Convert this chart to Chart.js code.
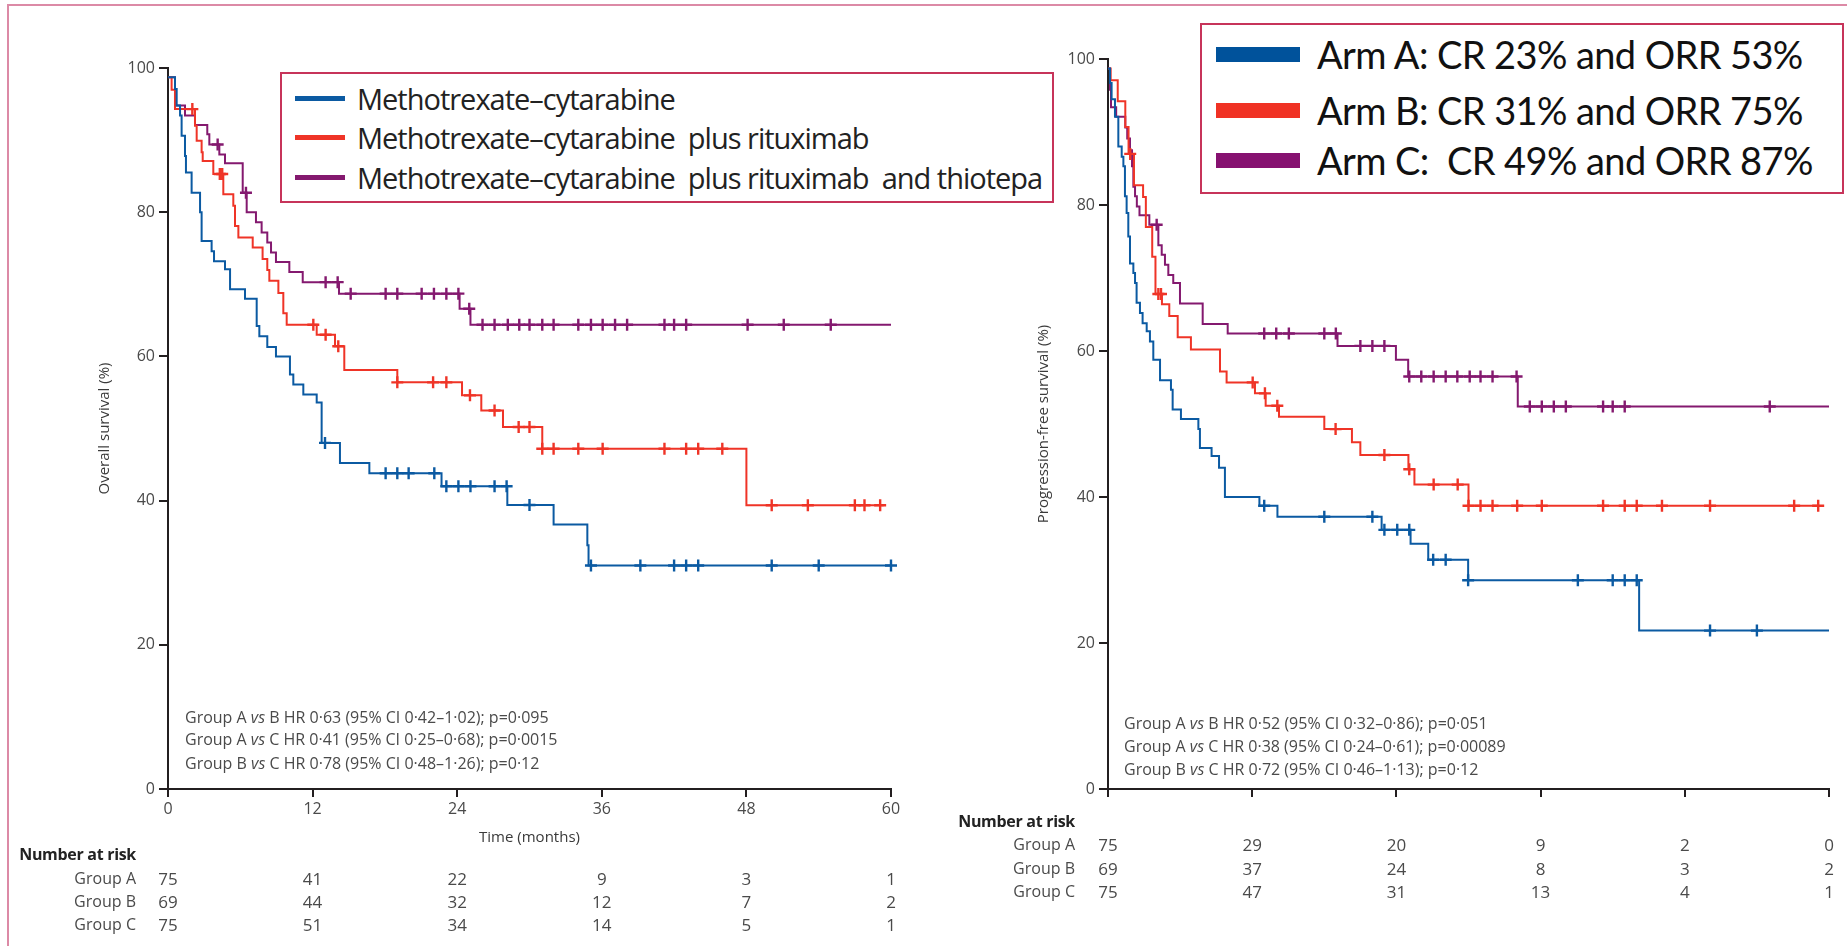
<!DOCTYPE html>
<html>
<head>
<meta charset="utf-8">
<script src="https://cdn.jsdelivr.net/npm/chart.js@4"></script>
<style>
  body { margin: 0; background: #fff; }
  #page { position: relative; width: 1847px; height: 946px; overflow: hidden; font-family: "Open Sans", sans-serif; color: #3a3a3a; }
  .frame { position: absolute; left: 7px; top: 4px; width: 1900px; height: 1000px; border: 2px solid #dc8aa6; }
  .panel { position: absolute; top: 0; height: 946px; }
  .legend { position: absolute; border: 2px solid #c7345a; background: #fff; }
  .txt { position: absolute; white-space: pre; line-height: 1; }
  .swatch { position: absolute; }
</style>
</head>
<body>
<div id="page">
  <div class="frame"></div>
  <div class="panel" style="left:0;width:960px"><canvas id="os"></canvas></div>
  <div class="panel" style="left:960px;width:887px"><canvas id="pfs"></canvas></div>
</div>
<script>
// colours of the three arms
const colA = "#0b5aa2";
const colB = "#ef3427";
const colC = "#84196f";

// --- overall survival (left panel), Kaplan-Meier steps ---
const osTimesA = [0, 0.58, 0.72, 1.0, 1.13, 1.41, 1.49, 1.96, 2.66, 2.79, 3.62, 3.82, 4.73, 5.15, 6.39, 7.36, 7.58, 8.24, 8.96, 10.12, 10.4, 11.23, 12.34, 12.75, 14.27, 16.71, 22.7, 28.16, 32.0, 34.8, 34.9, 60];
const osSurvA  = [98.7, 97.1, 94.8, 93.4, 90.6, 87.8, 85.5, 82.7, 80.0, 76.0, 74.6, 73.2, 72.1, 69.3, 68.0, 64.2, 62.8, 61.3, 60.0, 57.5, 56.1, 54.7, 53.6, 48.0, 45.2, 43.8, 42.0, 39.4, 36.7, 33.8, 31.0, 31.0];
const osCensA  = [13.03, 18.06, 19.03, 19.97, 22.1, 23.1, 24.1, 25.1, 27.1, 28.1, 30.0, 35.1, 39.2, 42.0, 43.0, 44.0, 50.1, 54.0, 60.0];

const osTimesB = [0, 0.3, 0.58, 2.24, 2.38, 2.79, 2.88, 3.76, 4.59, 5.42, 5.56, 5.84, 7.03, 7.85, 8.24, 8.41, 9.16, 9.57, 9.85, 12.34, 13.86, 14.63, 19.03, 24.4, 26.0, 27.8, 31.06, 48.0, 59.4];
const osSurvB  = [98.7, 97.0, 94.3, 92.0, 89.9, 88.3, 87.1, 85.3, 82.5, 80.9, 78.1, 76.5, 75.1, 73.5, 72.0, 70.5, 68.8, 66.0, 64.4, 63.0, 61.4, 58.1, 56.4, 54.6, 52.5, 50.2, 47.2, 39.35, 39.35];
const osCensB  = [2.02, 4.3, 4.5, 12.06, 13.08, 14.13, 19.03, 22.0, 23.1, 25.06, 27.1, 29.1, 30.0, 31.06, 32.0, 34.05, 36.07, 41.2, 43.0, 44.0, 46.0, 50.1, 53.1, 57.0, 57.8, 59.1];

const osTimesC = [0, 0.58, 1.41, 2.24, 3.26, 3.43, 4.26, 4.73, 6.2, 6.53, 7.3, 7.77, 8.24, 8.55, 8.96, 10.07, 11.18, 14.19, 24.2, 25.1, 60];
const osSurvC  = [98.7, 94.8, 93.4, 92.1, 90.8, 89.4, 88.0, 86.8, 82.7, 80.0, 78.6, 77.2, 75.8, 74.4, 73.1, 71.7, 70.3, 68.7, 66.6, 64.4, 64.4];
const osCensC  = [4.12, 6.47, 13.08, 14.08, 15.16, 18.06, 19.03, 21.05, 22.07, 23.1, 24.1, 25.0, 26.1, 27.1, 28.2, 29.15, 30.0, 31.06, 32.0, 34.05, 35.1, 36.07, 37.1, 38.1, 41.2, 42.0, 43.0, 48.1, 51.1, 55.0];

// --- progression-free survival (right panel) ---
const pfsTimesA = [0, 0.17, 0.3, 0.58, 0.86, 1.14, 1.28, 1.41, 1.55, 1.69, 1.83, 2.11, 2.25, 2.38, 2.66, 2.88, 3.22, 3.49, 3.77, 4.33, 5.24, 5.38, 6.07, 7.52, 7.65, 8.62, 9.24, 9.73, 12.6, 14.1, 22.77, 25.18, 26.65, 29.97, 44.2, 60];
const pfsSurvA  = [98.7, 96.7, 94.5, 92.1, 88.0, 86.6, 85.3, 81.2, 78.9, 75.7, 72.0, 70.7, 69.3, 66.6, 65.2, 63.8, 62.7, 61.3, 58.8, 56.0, 54.7, 52.0, 50.7, 49.3, 46.7, 45.6, 44.0, 40.0, 38.8, 37.3, 35.5, 33.6, 31.4, 28.6, 21.7, 21.7];
const pfsCensA  = [13.0, 18.0, 22.0, 23.0, 24.07, 25.07, 27.06, 28.1, 29.97, 39.1, 42.0, 43.0, 44.0, 50.1, 54.0];

const pfsTimesB = [0, 0.22, 0.81, 1.44, 1.71, 2.16, 2.92, 3.15, 3.68, 3.95, 4.49, 5.1, 5.8, 6.9, 9.32, 9.87, 12.23, 13.12, 14.23, 18.0, 20.3, 21.0, 25.0, 25.5, 30.0, 59.2];
const pfsSurvB  = [98.7, 97.1, 94.2, 90.7, 87.0, 82.7, 81.1, 77.0, 72.9, 67.8, 66.4, 64.8, 61.9, 60.2, 57.2, 55.7, 54.2, 52.5, 51.0, 49.3, 47.5, 45.75, 43.8, 41.7, 38.8, 38.8];
const pfsCensB  = [1.85, 4.19, 4.41, 12.04, 13.06, 14.09, 18.94, 23.0, 25.07, 27.1, 29.1, 30.0, 31.0, 32.0, 34.05, 36.1, 41.2, 43.0, 44.0, 46.1, 50.1, 57.1, 59.1];

const pfsTimesC = [0, 0.17, 0.25, 0.68, 1.44, 1.6, 1.83, 2.0, 2.11, 2.25, 2.4, 2.62, 3.44, 4.19, 4.47, 4.74, 5.02, 5.43, 5.99, 7.88, 9.96, 19.1, 23.96, 24.98, 34.1, 60];
const pfsSurvC  = [98.7, 95.8, 93.4, 92.1, 90.6, 89.1, 87.5, 85.3, 82.5, 81.2, 79.8, 78.6, 77.3, 74.5, 73.2, 71.8, 70.4, 69.3, 66.5, 63.7, 62.4, 60.7, 58.8, 56.5, 52.4, 52.4];
const pfsCensC  = [4.05, 13.0, 14.0, 15.05, 18.0, 18.96, 21.0, 22.0, 23.0, 25.07, 26.07, 27.1, 28.1, 29.07, 30.1, 31.0, 32.0, 34.0, 35.1, 36.1, 37.1, 38.1, 41.2, 42.0, 43.0, 55.07];

// number at risk
const riskTimes = [0, 12, 24, 36, 48, 60];
const groupNames = ["Group A", "Group B", "Group C"];
const osRiskA = [75, 41, 22, 9, 3, 1];
const osRiskB = [69, 44, 32, 12, 7, 2];
const osRiskC = [75, 51, 34, 14, 5, 1];
const pfsRiskA = [75, 29, 20, 9, 2, 0];
const pfsRiskB = [69, 37, 24, 8, 3, 2];
const pfsRiskC = [75, 47, 31, 13, 4, 1];

// hazard ratio notes
const osHR = [
  "Group A vs B HR 0·63 (95% CI 0·42–1·02); p=0·095",
  "Group A vs C HR 0·41 (95% CI 0·25–0·68); p=0·0015",
  "Group B vs C HR 0·78 (95% CI 0·48–1·26); p=0·12"
];
const pfsHR = [
  "Group A vs B HR 0·52 (95% CI 0·32–0·86); p=0·051",
  "Group A vs C HR 0·38 (95% CI 0·24–0·61); p=0·00089",
  "Group B vs C HR 0·72 (95% CI 0·46–1·13); p=0·12"
];

const osLegend = [
  "Methotrexate–cytarabine",
  "Methotrexate–cytarabine  plus rituximab",
  "Methotrexate–cytarabine  plus rituximab  and thiotepa"
];
const pfsLegend = [
  "Arm A: CR 23% and ORR 53%",
  "Arm B: CR 31% and ORR 75%",
  "Arm C:  CR 49% and ORR 87%"
];

Chart.defaults.font.family = "'Open Sans', sans-serif";
Chart.defaults.color = "#4a4a4a";

const page = document.getElementById("page");

function survAt(times, surv, t) {
  let v = surv[0];
  for (let i = 0; i < times.length; i++) if (times[i] <= t) v = surv[i];
  return v;
}

function kmSets(times, surv, cens, color) {
  return [
    {
      data: times.map((t, i) => ({ x: t, y: surv[i] })),
      borderColor: color, borderWidth: 2, stepped: true,
      pointRadius: 0, fill: false, clip: false
    },
    {
      data: cens.map(t => ({ x: t, y: survAt(times, surv, t) })),
      showLine: false, borderColor: color, backgroundColor: color,
      pointStyle: "cross", pointRadius: 6, pointBorderWidth: 2.4, clip: false
    }
  ];
}

function addText(txt, x, y, css, anchor) {
  const el = document.createElement("div");
  el.className = "txt";
  el.textContent = txt;
  el.style.left = x + "px";
  el.style.top = y + "px";
  const tx = anchor === "right" ? "-100%" : anchor === "center" ? "-50%" : "0";
  el.style.transform = `translate(${tx}, -50%)`;
  Object.assign(el.style, css || {});
  page.appendChild(el);
  return el;
}

function makeChart(id, sets, cfg) {
  return new Chart(document.getElementById(id), {
    type: "line",
    data: { datasets: sets },
    options: {
      responsive: true, maintainAspectRatio: false, animation: false,
      layout: { padding: cfg.padding },
      plugins: { legend: { display: false }, tooltip: { enabled: false } },
      scales: {
        x: {
          type: "linear", min: 0, max: 60,
          ticks: {
            stepSize: 12, font: { size: 16 }, padding: 3, color: "#4a4a4a",
            callback: v => cfg.xLabels ? v : ""
          },
          grid: { drawOnChartArea: false, tickLength: 8, color: "#231f20", lineWidth: 2 },
          border: { color: "#231f20", width: 2 },
          title: { display: !!cfg.xTitle, text: cfg.xTitle, font: { size: 15 }, color: "#3a3a3a", padding: { top: 0, bottom: 2 } },
          afterFit: s => { s.height = 60; }
        },
        y: {
          min: 0, max: 100,
          ticks: { stepSize: 20, font: { size: 16 }, padding: 4, color: "#4a4a4a" },
          grid: { drawOnChartArea: false, tickLength: 9, color: "#231f20", lineWidth: 2 },
          border: { color: "#231f20", width: 2 },
          title: { display: true, text: cfg.yTitle, font: { size: 15 }, color: "#3a3a3a", padding: { top: cfg.yTitlePad, bottom: 0 } },
          afterFit: s => { s.width = cfg.yWidth; }
        }
      }
    }
  });
}

const osChart = makeChart("os", [
  ...kmSets(osTimesA, osSurvA, osCensA, colA),
  ...kmSets(osTimesB, osSurvB, osCensB, colB),
  ...kmSets(osTimesC, osSurvC, osCensC, colC)
], { padding: { left: 0, right: 69, top: 68, bottom: 97 }, yWidth: 168, xLabels: true,
     xTitle: "Time (months)", yTitle: "Overall survival (%)", yTitlePad: 96 });

const pfsChart = makeChart("pfs", [
  ...kmSets(pfsTimesA, pfsSurvA, pfsCensA, colA),
  ...kmSets(pfsTimesB, pfsSurvB, pfsCensB, colB),
  ...kmSets(pfsTimesC, pfsSurvC, pfsCensC, colC)
], { padding: { left: 0, right: 18, top: 59, bottom: 97 }, yWidth: 148, xLabels: false,
     xTitle: "", yTitle: "Progression-free survival (%)", yTitlePad: 75 });

// number at risk tables, numbers sit under the x ticks
function riskTable(chart, offX, rows, headY, rowY, labelRight) {
  addText("Number at risk", labelRight, headY, { fontWeight: "700", fontSize: "16px", color: "#222", letterSpacing: "-0.3px" }, "right");
  rows.forEach((row, r) => {
    addText(groupNames[r], labelRight, rowY[r], { fontSize: "16px", color: "#4a4a4a" }, "right");
    row.forEach((n, i) => {
      const x = offX + chart.scales.x.getPixelForValue(riskTimes[i]);
      addText(String(n), x, rowY[r], { fontSize: "17px", color: "#4a4a4a" }, "center");
    });
  });
}
riskTable(osChart, 0, [osRiskA, osRiskB, osRiskC], 854, [878, 901, 924], 136);
riskTable(pfsChart, 960, [pfsRiskA, pfsRiskB, pfsRiskC], 821, [844, 868, 891], 1075);

// HR notes
function hrNotes(lines, x, ys) {
  lines.forEach((s, i) => {
    const el = addText("", x, ys[i], { fontSize: "16px", color: "#4a4a4a" });
    const parts = s.split(" vs ");
    el.append(parts[0] + " ");
    const it = document.createElement("i");
    it.textContent = "vs";
    el.append(it, " " + parts[1]);
  });
}
hrNotes(osHR, 185, [717, 739, 763]);
hrNotes(pfsHR, 1124, [723, 746, 769]);

// legends
function legendBox(box, labels, colors, sw, textX, ys, font) {
  const b = document.createElement("div");
  b.className = "legend";
  Object.assign(b.style, { left: box[0] + "px", top: box[1] + "px", width: (box[2] - box[0]) + "px", height: (box[3] - box[1]) + "px" });
  page.appendChild(b);
  labels.forEach((lab, i) => {
    const s = document.createElement("div");
    s.className = "swatch";
    Object.assign(s.style, { left: sw[0] + "px", width: (sw[1] - sw[0]) + "px", top: (ys[i] - sw[2] / 2) + "px", height: sw[2] + "px", background: colors[i] });
    page.appendChild(s);
    addText(lab, textX, ys[i], font);
  });
}
legendBox([280, 72, 1050, 199], osLegend, [colA, colB, colC], [295, 345, 5], 357, [98, 137, 177],
  { fontSize: "29px", letterSpacing: "-1px", color: "#222" });
legendBox([1200, 23, 1840, 190], pfsLegend, ["#00529b", "#f03224", "#861170"], [1216, 1300, 15], 1317, [54, 110, 160],
  { fontSize: "38px", letterSpacing: "-0.6px", color: "#111", fontFamily: "Lato, sans-serif" });
</script>
</body>
</html>
